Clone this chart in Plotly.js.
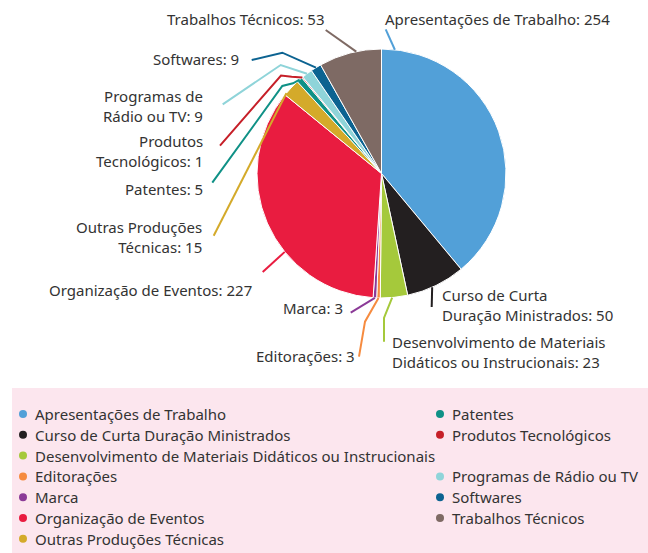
<!DOCTYPE html>
<html>
<head>
<meta charset="utf-8">
<script src="https://cdn.plot.ly/plotly-3.0.1.min.js"></script>
<style>html,body{margin:0;padding:0;background:#fff;}#chart{width:648px;height:553px;}</style>
</head>
<body>
<div id="chart"></div>
<script>
// ---- data ----
const categories = [
  "Apresentações de Trabalho",
  "Curso de Curta Duração Ministrados",
  "Desenvolvimento de Materiais Didáticos ou Instrucionais",
  "Editorações",
  "Marca",
  "Organização de Eventos",
  "Outras Produções Técnicas",
  "Patentes",
  "Produtos Tecnológicos",
  "Programas de Rádio ou TV",
  "Softwares",
  "Trabalhos Técnicos"
];
const values = [254, 50, 23, 3, 3, 227, 15, 5, 1, 9, 9, 53];
const colors = ["#52a0d8", "#231f20", "#a5c93b", "#f68b3f", "#8b3a97", "#e91c40",
                "#d4aa2a", "#0f9186", "#c61f28", "#8fd4d9", "#0c6391", "#7e6a64"];
// category names as wrapped for the outside labels ("|" = line break)
const wrappedNames = [
  "Apresentações de Trabalho",
  "Curso de Curta|Duração Ministrados",
  "Desenvolvimento de Materiais|Didáticos ou Instrucionais",
  "Editorações",
  "Marca",
  "Organização de Eventos",
  "Outras Produções|Técnicas",
  "Patentes",
  "Produtos|Tecnológicos",
  "Programas de|Rádio ou TV",
  "Softwares",
  "Trabalhos Técnicos"
];

// ---- layout geometry (pixels) ----
const W = 648, H = 553;
const px = x => x / W, py = y => 1 - y / H;
const cx = 381.5, cy = 173.5, R = 124.5;
const FONT = "Noto Sans, sans-serif";
const TXT = "#333333";

// per-label placement: where along the slice the leader starts, bend points, label anchor
const labelSpec = [
  {frac: 0.044, pts: [[385.7, 29.3]], x: 383, y: 19, side: "left"},
  {frac: 0.57, pts: [[431.7, 307]], x: 440, y: 304.5, side: "left"},
  {frac: 0.57, pts: [[384, 318], [384, 341.7]], x: 390, y: 351.5, side: "left"},
  {frac: 0.5, pts: [[365, 321.7], [359, 356.7]], x: 357, y: 356, side: "right"},
  {frac: 0.5, pts: [[350.7, 312.7]], x: 345, y: 308, side: "right"},
  {frac: 0.376, pts: [[262.7, 272]], x: 254, y: 290, side: "right"},
  {frac: 0.12, pts: [[213.7, 235.7]], x: 204, y: 237, side: "right"},
  {frac: 0.5, pts: [[293, 83.3], [282.3, 86], [212.3, 182.7]], x: 205, y: 189, side: "right"},
  {frac: 0.5, pts: [[291.7, 76.7], [281, 75.5], [220, 145.7]], x: 205, y: 151, side: "right"},
  {frac: 0.5, pts: [[280.7, 65], [222.7, 104.3]], x: 205, y: 106.5, side: "right"},
  {frac: 0.5, pts: [[282.3, 52.7], [251.7, 60]], x: 241, y: 59, side: "right"},
  {frac: 0.6, pts: [[325.7, 30]], x: 326, y: 19, side: "right"}
];
// legend slots: [column, row]
const legendSlots = [[0,0],[0,1],[0,2],[0,3],[0,4],[0,5],[0,6],[1,0],[1,1],[1,3],[1,4],[1,5]];
const legendColX = [23, 440];
const legendRow0 = 414, legendStep = 20.8;

// ---- build ----
const total = values.reduce((a, b) => a + b, 0);
let cum = 0;
const shapes = [{
  type: "rect", xref: "paper", yref: "paper", layer: "below",
  x0: px(12), x1: px(648), y0: py(553), y1: py(388),
  fillcolor: "#fce6ee", line: {width: 0}
}];
const annotations = [];

values.forEach((v, i) => {
  const a0 = cum / total * 360; cum += v; const a1 = cum / total * 360;
  const spec = labelSpec[i];
  const th = (a0 + spec.frac * (a1 - a0)) * Math.PI / 180;
  const ex = cx + R * Math.sin(th), ey = cy - R * Math.cos(th);
  let path = "M " + px(ex) + " " + py(ey);
  spec.pts.forEach(p => { path += " L " + px(p[0]) + " " + py(p[1]); });
  shapes.push({type: "path", xref: "paper", yref: "paper", path: path,
               line: {color: colors[i], width: 2}});
  const text = wrappedNames[i].split("|").join("<br>") + ": " + v;
  annotations.push({
    xref: "paper", yref: "paper", x: px(spec.x), y: py(spec.y),
    xanchor: spec.side, yanchor: "middle", align: spec.side, showarrow: false, text: text,
    font: {family: FONT, size: 15, color: TXT}
  });
});

categories.forEach((c, i) => {
  const [col, row] = legendSlots[i];
  const y = legendRow0 + row * legendStep;
  const x = legendColX[col];
  shapes.push({type: "circle", xref: "paper", yref: "paper",
    x0: px(x - 4), x1: px(x + 4), y0: py(y + 4), y1: py(y - 4),
    fillcolor: colors[i], line: {width: 0}});
  annotations.push({
    xref: "paper", yref: "paper", x: px(x + 10), y: py(y),
    xanchor: "left", yanchor: "middle", showarrow: false, text: c,
    font: {family: FONT, size: 15, color: TXT}
  });
});

const trace = {
  type: "pie",
  labels: categories,
  values: values,
  sort: false,
  direction: "clockwise",
  rotation: 0,
  textinfo: "none",
  marker: {colors: colors, line: {color: "#ffffff", width: 1}},
  domain: {x: [px(cx - R), px(cx + R)], y: [py(cy + R), py(cy - R)]},
  showlegend: false
};

Plotly.newPlot("chart", [trace], {
  width: W, height: H,
  margin: {l: 0, r: 0, t: 0, b: 0},
  paper_bgcolor: "#ffffff",
  showlegend: false,
  shapes: shapes,
  annotations: annotations,
  font: {family: FONT}
}, {displayModeBar: false, staticPlot: true});
</script>
</body>
</html>
